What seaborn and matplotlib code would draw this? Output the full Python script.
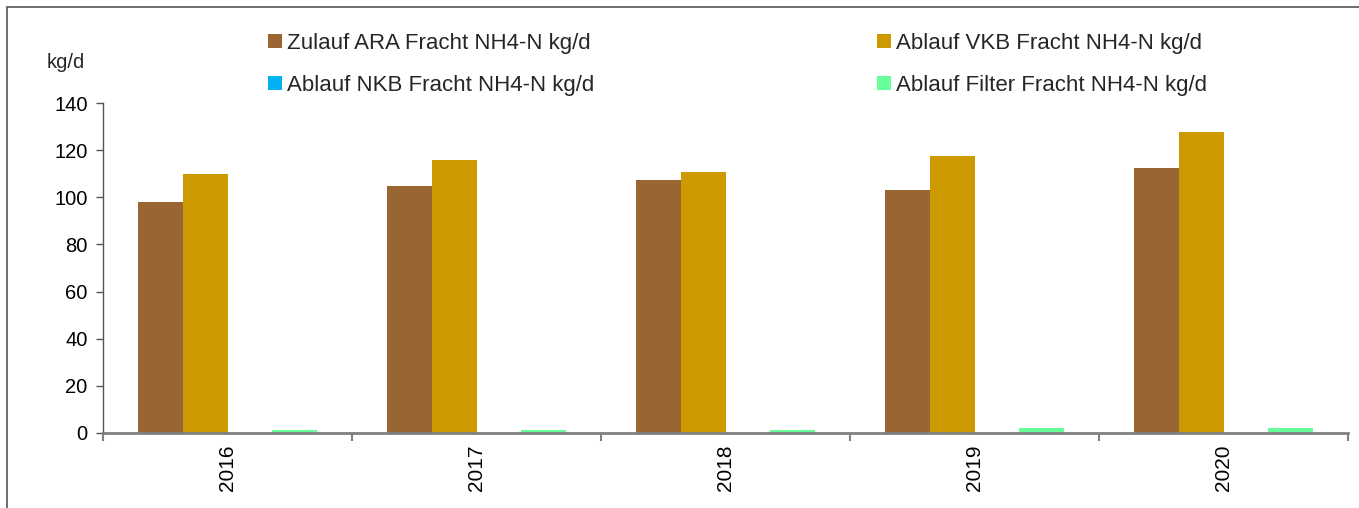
import matplotlib
matplotlib.use("Agg")
import matplotlib.pyplot as plt
from matplotlib.patches import Patch, Rectangle
import seaborn as sns
import pandas as pd

# Jahresmittel der NH4-N-Frachten (kg/d)
years = ["2016", "2017", "2018", "2019", "2020"]
zulauf_ara = [98.0, 104.8, 107.3, 103.1, 112.3]
ablauf_vkb = [109.9, 115.8, 110.7, 117.5, 127.7]
ablauf_nkb = [0.0, 0.0, 0.0, 0.0, 0.0]
ablauf_filter = [1.2, 1.2, 1.2, 2.0, 2.0]

series_names = [
    "Zulauf ARA Fracht NH4-N kg/d",
    "Ablauf VKB Fracht NH4-N kg/d",
    "Ablauf NKB Fracht NH4-N kg/d",
    "Ablauf Filter Fracht NH4-N kg/d",
]
series_colors = ["#996633", "#CC9900", "#00B0F0", "#66FF99"]

rows = []
for name, vals in zip(series_names, [zulauf_ara, ablauf_vkb, ablauf_nkb, ablauf_filter]):
    for y, v in zip(years, vals):
        rows.append({"Jahr": y, "Serie": name, "Wert": v})
df = pd.DataFrame(rows)

sns.set_theme(style="white")
plt.rcParams["font.family"] = ["Liberation Sans", "DejaVu Sans"]

W, H = 1359, 508
fig = plt.figure(figsize=(W / 100, H / 100), dpi=100)
ax = fig.add_axes([103 / W, 1 - 433 / H, (1348 - 103) / W, (433 - 103) / H])

sns.barplot(
    data=df, x="Jahr", y="Wert", hue="Serie", order=years, hue_order=series_names,
    palette=series_colors, width=0.715, gap=0, errorbar=None, ax=ax,
    saturation=1, legend=False, linewidth=0,
)

ax.set_xlim(-0.5, len(years) - 0.5)
ax.set_ylim(0, 140)
ax.set_yticks(range(0, 141, 20))
ax.set_xlabel("")
ax.set_ylabel("")

# group separators as major ticks, year labels on minor ticks at the centres
ax.set_xticks([i - 0.5 for i in range(len(years) + 1)])
ax.set_xticklabels([])
ax.set_xticks(range(len(years)), minor=True)
ax.set_xticklabels(years, minor=True, rotation=90, fontsize=15, color="black")
ax.tick_params(axis="x", which="major", direction="out", length=6, width=1.5,
               color="#808080", bottom=True)
ax.tick_params(axis="x", which="minor", length=0, pad=8)
ax.tick_params(axis="y", direction="out", length=5, width=1, color="#555555",
               labelsize=14.5, labelcolor="black", left=True, pad=6)

for s in ["top", "right"]:
    ax.spines[s].set_visible(False)
ax.spines["left"].set_color("#555555")
ax.spines["left"].set_linewidth(1.0)
ax.spines["bottom"].set_color("#808080")
ax.spines["bottom"].set_linewidth(2.0)
ax.grid(False)

fig.text(66 / W, 1 - 62 / H, "kg/d", ha="center", va="center", fontsize=14.5)

# two-column legend built as two single-column legends
handles = [Patch(facecolor=c, edgecolor="none") for c in series_colors]
leg_kw = dict(frameon=False, fontsize=16, handlelength=0.62, handleheight=0.62,
              handletextpad=0.25, labelspacing=0.95, borderpad=0, borderaxespad=0,
              loc="upper left")
fig.legend([handles[0], handles[2]], [series_names[0], series_names[2]],
           bbox_to_anchor=(268 / W, 1 - 33 / H), **leg_kw)
fig.legend([handles[1], handles[3]], [series_names[1], series_names[3]],
           bbox_to_anchor=(877 / W, 1 - 33 / H), **leg_kw)

# outer chart frame
fig.patches.append(Rectangle((7 / W, -0.5), 2.0, 1.5 - 7 / H, transform=fig.transFigure,
                             fill=False, edgecolor="#555555", linewidth=1.2))

fig.savefig("out.png", dpi=100)
